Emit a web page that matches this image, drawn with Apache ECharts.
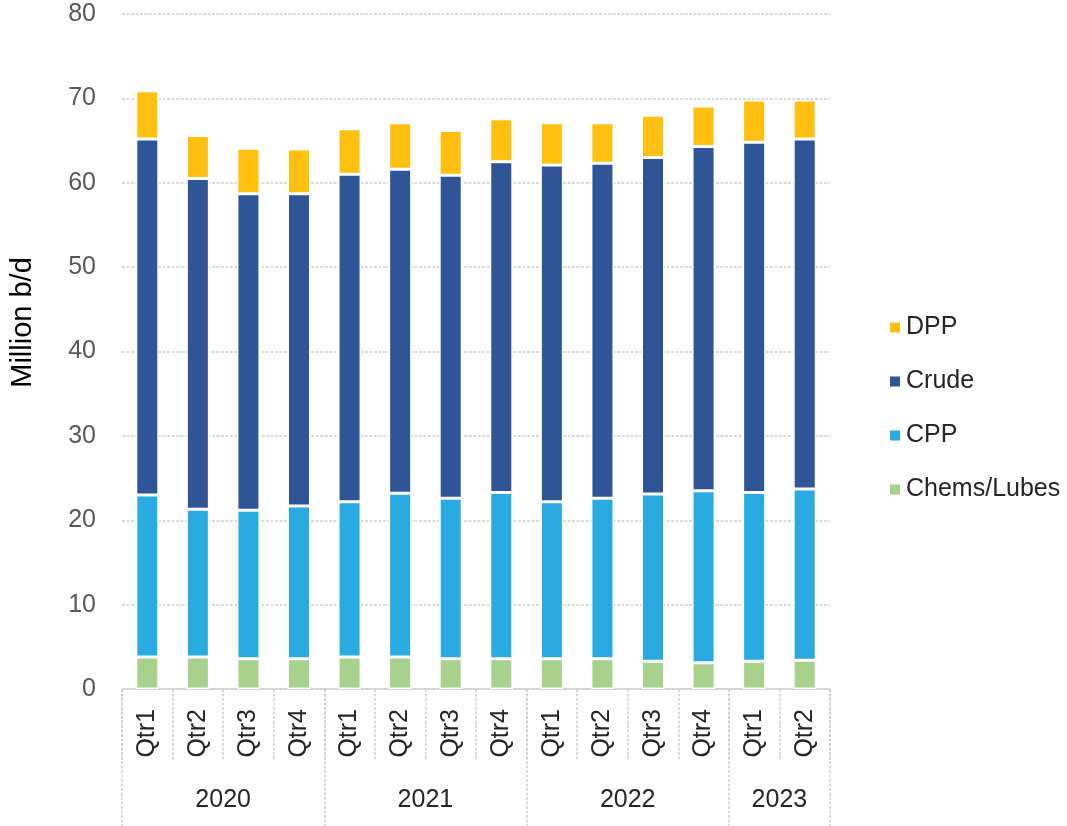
<!DOCTYPE html>
<html>
<head>
<meta charset="utf-8">
<script src="https://cdn.jsdelivr.net/npm/echarts@6/dist/echarts.min.js"></script>
<style>
  html, body { margin: 0; padding: 0; background: #fff; }
  #chart { width: 1067px; height: 826px; }
</style>
</head>
<body>
<div id="chart"></div>
<script>
// ---- Data ----
const quarters = ['Qtr1','Qtr2','Qtr3','Qtr4','Qtr1','Qtr2','Qtr3','Qtr4','Qtr1','Qtr2','Qtr3','Qtr4','Qtr1','Qtr2'];
const yearLabels = ['2020','2021','2022','2023'];
const yearSpans = [4, 4, 4, 2];
const chemsLubes = [3.8, 3.8, 3.6, 3.6, 3.8, 3.8, 3.6, 3.6, 3.6, 3.6, 3.3, 3.1, 3.3, 3.4];
const cpp        = [19.2, 17.5, 17.6, 18.1, 18.4, 19.4, 19.0, 19.7, 18.6, 19.0, 19.8, 20.4, 20.0, 20.3];
const crude      = [42.2, 39.2, 37.5, 37.0, 38.8, 38.4, 38.3, 39.2, 39.9, 39.7, 39.9, 40.8, 41.5, 41.5];
const dpp        = [5.7, 5.1, 5.4, 5.3, 5.4, 5.5, 5.3, 5.1, 5.0, 4.8, 5.0, 4.8, 5.0, 4.6];
const yTicks = { min: 0, max: 80, interval: 10 };

// year group boundaries and centres (in category units)
const yearBounds = [0];
const yearCenters = [];
yearSpans.forEach((s, i) => {
  const start = yearBounds[yearBounds.length - 1];
  yearCenters.push(start + s / 2);
  yearBounds.push(start + s);
});
const totalCats = yearBounds[yearBounds.length - 1];

const FONT = '"Liberation Sans", Arial, sans-serif';
const GREY = '#d0d0d0';

const chart = echarts.init(document.getElementById('chart'), null, { renderer: 'canvas' });

const barStyle = (color) => ({ color: color, borderColor: '#ffffff', borderWidth: 1.5 });

const option = {
  backgroundColor: '#ffffff',
  animation: false,
  textStyle: { fontFamily: FONT },
  grid: { left: 115, right: 237, top: 14, bottom: 137, containLabel: false },
  legend: {
    orient: 'vertical',
    left: 883,
    top: 310,
    itemWidth: 12,
    itemHeight: 12,
    itemGap: 29,
    icon: 'rect',
    data: ['DPP', 'Crude', 'CPP', 'Chems/Lubes'],
    textStyle: { fontSize: 25, color: '#262626', fontFamily: FONT, lineHeight: 24 }
  },
  xAxis: [
    {
      type: 'category',
      data: quarters,
      position: 'bottom',
      axisLine: { show: true, lineStyle: { color: GREY, width: 1.5 } },
      axisTick: { show: true, interval: 0, length: 72, lineStyle: { color: GREY, width: 1.5, type: [3, 1.5] } },
      axisLabel: { interval: 0, rotate: 90, margin: 20, fontSize: 25, color: '#262626', fontFamily: FONT },
      splitLine: { show: false }
    },
    {
      type: 'value',
      min: 0,
      max: totalCats,
      position: 'bottom',
      axisLine: { show: false },
      splitLine: { show: false },
      axisTick: { show: true, customValues: yearBounds, length: 137, lineStyle: { color: GREY, width: 1.5, type: [3, 1.5] } },
      axisLabel: {
        show: true,
        customValues: yearCenters,
        margin: 99,
        fontSize: 25,
        color: '#262626',
        fontFamily: FONT,
        formatter: (v) => {
          const idx = yearCenters.findIndex(c => Math.abs(c - v) < 1e-6);
          return idx >= 0 ? yearLabels[idx] : '';
        }
      }
    }
  ],
  yAxis: {
    type: 'value',
    min: yTicks.min,
    max: yTicks.max,
    interval: yTicks.interval,
    name: 'Million b/d',
    nameLocation: 'middle',
    nameGap: 85,
    nameTextStyle: { fontSize: 29, color: '#000000', fontFamily: FONT, padding: [0, 0, 0, 58] },
    axisLine: { show: false },
    axisTick: { show: false },
    axisLabel: { fontSize: 25, color: '#595959', margin: 26, fontFamily: FONT },
    splitLine: { show: true, lineStyle: { color: GREY, width: 1.5, type: [3, 1.5] } }
  },
  series: [
    { name: 'Chems/Lubes', type: 'bar', stack: 'total', data: chemsLubes, barWidth: 23, itemStyle: barStyle('#A9D18E') },
    { name: 'CPP', type: 'bar', stack: 'total', data: cpp, barWidth: 23, itemStyle: barStyle('#29ABE2') },
    { name: 'Crude', type: 'bar', stack: 'total', data: crude, barWidth: 23, itemStyle: barStyle('#2F5597') },
    { name: 'DPP', type: 'bar', stack: 'total', data: dpp, barWidth: 23, itemStyle: barStyle('#FFC010') }
  ]
};

chart.setOption(option);
</script>
</body>
</html>
